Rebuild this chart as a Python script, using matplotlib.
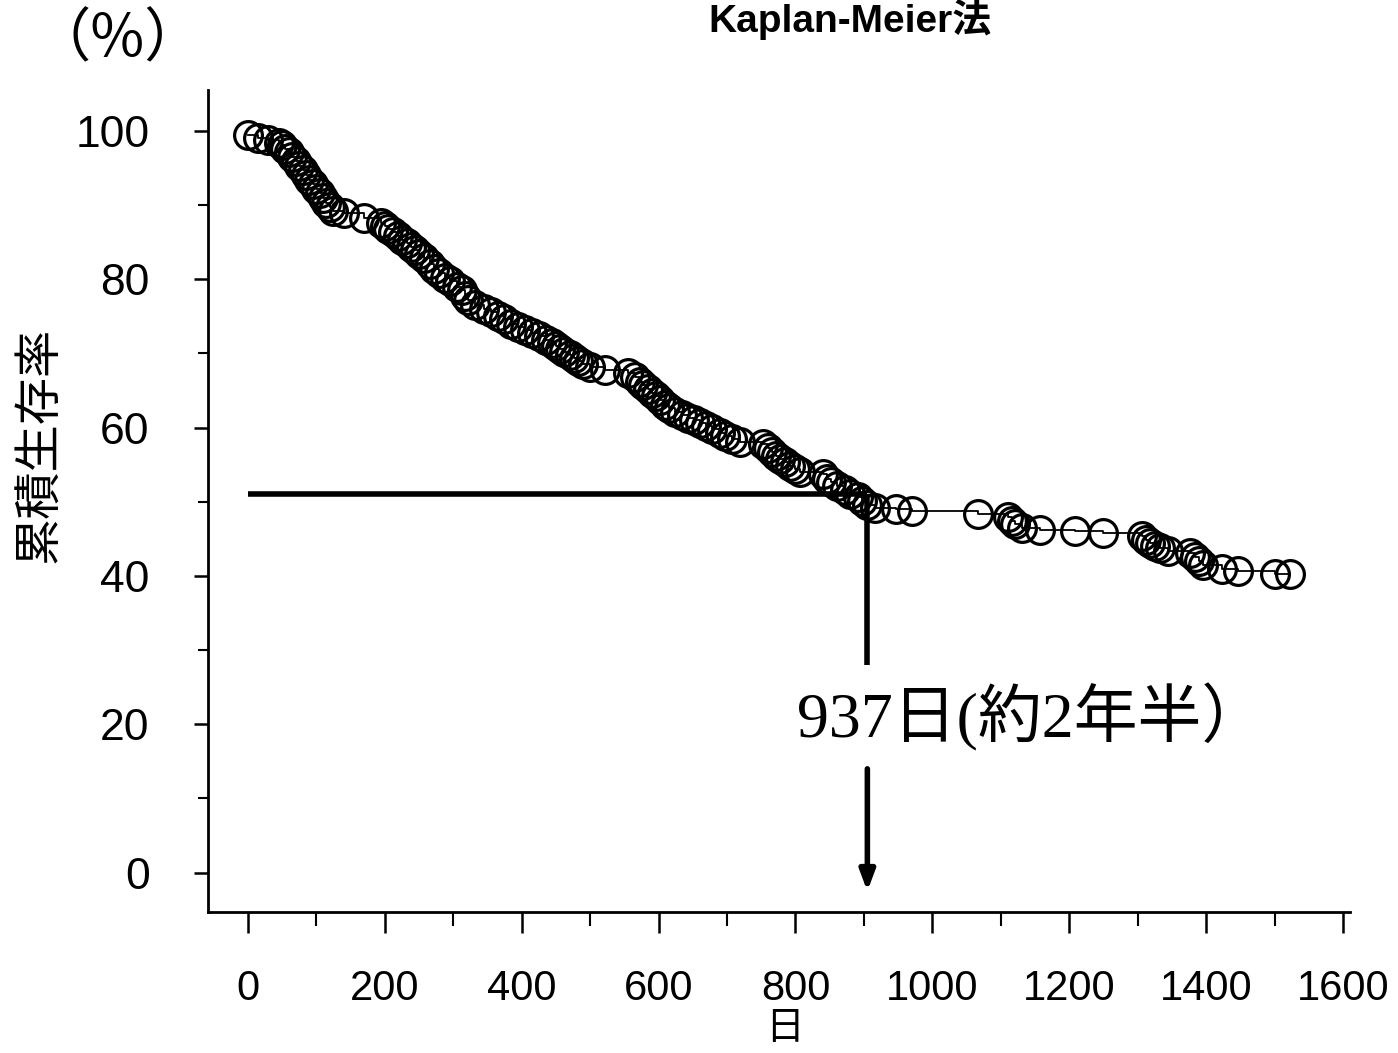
import matplotlib
matplotlib.use("Agg")
import matplotlib.pyplot as plt
from matplotlib.ticker import MultipleLocator

# Kaplan-Meier estimates (day, cumulative survival %)
days = [0, 15, 30, 45, 50, 55, 60, 65, 70, 75, 80, 85, 90, 95, 100, 105, 110,
        115, 120, 125, 140, 170, 195, 200, 205, 212, 220, 226, 232, 238, 244,
        250, 258, 266, 272, 280, 288, 295, 305, 313, 318, 322, 332, 345, 355,
        365, 375, 385, 395, 405, 415, 425, 435, 444, 450, 456, 462, 470, 476,
        482, 490, 500, 522, 555, 565, 573, 578, 584, 590, 596, 602, 609, 616,
        624, 634, 643, 652, 660, 670, 678, 690, 697, 708, 719, 752, 760, 766,
        772, 778, 785, 792, 799, 806, 840, 846, 852, 860, 872, 880, 891, 897,
        905, 916, 947, 970, 1066, 1110, 1116, 1121, 1131, 1157, 1208, 1249,
        1306, 1312, 1318, 1325, 1332, 1344, 1376, 1384, 1390, 1395, 1423, 1446,
        1500, 1522]
surv = [99.5, 99.1, 98.8, 98.4, 98.1, 97.6, 97.1, 96.5, 95.9, 95.3, 94.7, 94.0,
        93.4, 92.8, 92.2, 91.6, 91.0, 90.3, 89.7, 89.2, 88.9, 88.3, 87.6, 87.2,
        86.8, 86.3, 85.8, 85.3, 84.9, 84.4, 84.0, 83.4, 82.8, 82.0, 81.4, 80.8,
        80.2, 79.7, 79.0, 78.5, 77.8, 77.2, 76.5, 76.0, 75.6, 75.0, 74.6, 74.0,
        73.6, 73.1, 72.7, 72.3, 71.8, 71.4, 71.0, 70.6, 70.2, 69.8, 69.4, 69.0,
        68.6, 68.2, 67.8, 67.3, 66.8, 66.2, 65.7, 65.2, 64.7, 64.2, 63.7, 63.1,
        62.6, 62.1, 61.7, 61.3, 61.0, 60.6, 60.2, 59.8, 59.3, 58.9, 58.5, 58.1,
        57.8, 57.2, 56.7, 56.2, 55.7, 55.3, 54.8, 54.4, 54.0, 53.7, 53.1, 52.6,
        52.1, 51.6, 51.1, 50.6, 50.1, 49.6, 49.2, 49.0, 48.8, 48.4, 47.9, 47.4,
        47.0, 46.5, 46.2, 46.1, 45.8, 45.4, 44.9, 44.5, 44.1, 43.7, 43.3, 43.1,
        42.5, 42.0, 41.5, 40.9, 40.6, 40.3, 40.2]

median_day = 905      # where the arrow sits on the drawing
median_level = 51
median_label = "937日(約2年半）"

x_ticks = [0, 200, 400, 600, 800, 1000, 1200, 1400, 1600]
y_ticks = [0, 20, 40, 60, 80, 100]

sans = ["Liberation Sans", "Noto Sans CJK JP"]
cjk = ["Noto Sans CJK JP", "DejaVu Sans"]
serif = ["Liberation Serif", "Noto Sans CJK JP"]

fig = plt.figure(figsize=(13.98, 10.53), dpi=100)
ax = fig.add_axes([0.1488, 0.1339, 0.8169, 0.7806])

ax.plot(days, surv, drawstyle="steps-post", color="black", lw=1.3, zorder=2)
ax.plot(days, surv, "o", ms=20, mfc="none", mec="black", mew=2.3, zorder=3)

# median guide lines and arrow
ax.plot([0, median_day], [median_level, median_level], color="black", lw=4,
        solid_capstyle="butt", zorder=1)
ax.plot([median_day, median_day], [median_level, 28], color="black", lw=4,
        solid_capstyle="butt", zorder=1)
ax.annotate("", xy=(median_day, -2.5), xytext=(median_day, 14),
            arrowprops=dict(arrowstyle="-|>,head_length=1.2,head_width=0.45",
                            color="black", lw=4, shrinkA=0, shrinkB=0))
ax.text(median_day - 103, 21, median_label, family=serif, fontsize=46,
        ha="left", va="center")

ax.set_xlim(-58, 1610)
ax.set_ylim(-5.3, 105.5)
ax.spines["top"].set_visible(False)
ax.spines["right"].set_visible(False)
for s in ("left", "bottom"):
    ax.spines[s].set_linewidth(2)

ax.set_xticks(x_ticks)
ax.xaxis.set_minor_locator(MultipleLocator(100))
ax.set_yticks(y_ticks)
ax.yaxis.set_minor_locator(MultipleLocator(10))
ax.tick_params(axis="x", which="major", length=15, width=1.8, pad=26)
ax.tick_params(axis="x", which="minor", length=10, width=1.5)
ax.tick_params(axis="y", which="major", length=10, width=1.8, pad=32)
ax.tick_params(axis="y", which="minor", length=7, width=1.5)
for lab in ax.get_xticklabels():
    lab.set_family(sans)
    lab.set_fontsize(30)
for lab in ax.get_yticklabels():
    lab.set_family(sans)
    lab.set_fontsize(32)

fig.text(785 / 1398, 1 - 1028 / 1053, "日", family=cjk, fontsize=28,
         ha="center", va="center")
fig.text(40 / 1398, 1 - 445 / 1053, "累積生存率", family=cjk, fontsize=34,
         rotation=90, ha="center", va="center")
fig.text(850 / 1398, 1 - 19 / 1053, "Kaplan-Meier法", family=sans,
         fontsize=28, fontweight="bold", ha="center", va="center")
fig.text(118 / 1398, 1 - 40 / 1053, "（%）", family=cjk, fontsize=42,
         ha="center", va="center")

fig.savefig("out.png", dpi=100)
